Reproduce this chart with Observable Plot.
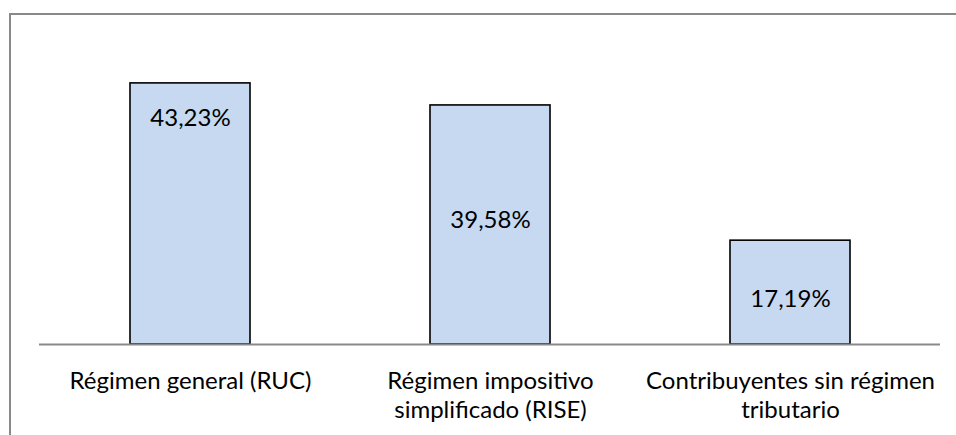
<!DOCTYPE html>
<html>
<head>
<meta charset="utf-8">
<script src="https://cdn.jsdelivr.net/npm/d3@7"></script>
<script src="https://cdn.jsdelivr.net/npm/@observablehq/plot@0.6"></script>
<style>
  html, body { margin: 0; padding: 0; background: #fff; overflow: hidden; }
  #wrap { position: relative; width: 956px; height: 435px; overflow: hidden; }
  #frame { position: absolute; left: 9px; top: 13px; width: 1000px; height: 500px;
           border: 2px solid #898989; box-sizing: border-box; }
  #chart { position: absolute; left: 0; top: 0; }
</style>
</head>
<body>
<div id="wrap"><div id="frame"></div><div id="chart"></div></div>
<script>
const categories = ["Régimen general (RUC)", "Régimen impositivo simplificado (RISE)", "Contribuyentes sin régimen tributario"];
const tickLabels = ["Régimen general (RUC)", "Régimen impositivo\nsimplificado (RISE)", "Contribuyentes sin régimen\ntributario"];
const values = [43.23, 39.58, 17.19];
const valueLabels = ["43,23%", "39,58%", "17,19%"];

const data = categories.map((c, i) => ({cat: c, value: values[i], label: valueLabels[i], tick: tickLabels[i]}));
// label placement inside bars (in data units), as placed in the original
const labelAt = [37.5, 20.5, 7.5];
const labelData = data.map((d, i) => ({...d, ly: labelAt[i]}));

const font = "Lato, 'Open Sans', sans-serif";

const chart = Plot.plot({
  width: 956,
  height: 435,
  marginLeft: 39,
  marginRight: 16,
  marginTop: 42,
  marginBottom: 91,
  style: {fontFamily: font, fontSize: "24px", color: "#000", background: "transparent"},
  x: {domain: categories, paddingInner: 0.6, paddingOuter: 0.3, label: null},
  y: {domain: [0, 50], axis: null},
  marks: [
    Plot.barY(data, {x: "cat", y: "value", fill: "#c6d9f1", stroke: "#000", strokeWidth: 1.6}),
    Plot.ruleY([0], {stroke: "#898989", strokeWidth: 2}),
    Plot.text(labelData, {x: "cat", y: "ly", text: "label", fontSize: 24, fill: "#000"}),
    Plot.axisX({
      tickSize: 0,
      tickPadding: 25,
      fontSize: 24,
      lineHeight: 1.17,
      fill: "#000",
      tickFormat: (d) => tickLabels[categories.indexOf(d)]
    })
  ]
});
document.getElementById("chart").appendChild(chart);
</script>
</body>
</html>
